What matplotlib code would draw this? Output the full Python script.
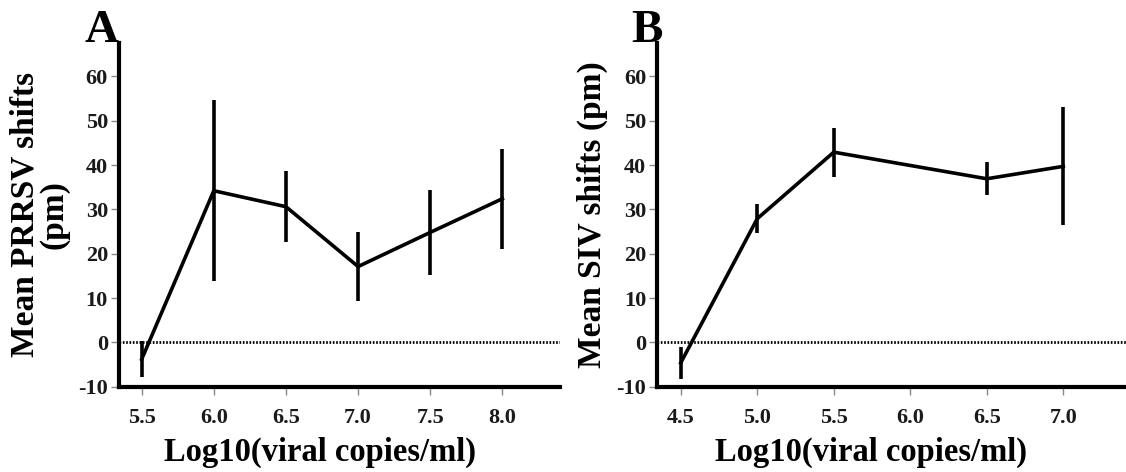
import numpy as np
import matplotlib
matplotlib.use("Agg")
import matplotlib.pyplot as plt

plt.rcParams['font.family'] = ['Liberation Serif', 'DejaVu Serif']
plt.rcParams['font.weight'] = 'bold'
plt.rcParams['axes.unicode_minus'] = False

# PRRSV panel
prrsv_x = [5.5, 6.0, 6.5, 7.0, 7.5, 8.0]
prrsv_mean = [-3.8, 34.2, 30.6, 17.1, 24.8, 32.4]
prrsv_err = [4.0, 20.4, 8.0, 7.8, 9.6, 11.3]
prrsv_ticks = [5.5, 6.0, 6.5, 7.0, 7.5, 8.0]

# SIV panel
siv_x = [4.5, 5.0, 5.5, 6.5, 7.0]
siv_mean = [-4.6, 27.9, 42.9, 36.9, 39.7]
siv_err = [3.6, 3.3, 5.5, 3.7, 13.3]
siv_ticks = [4.5, 5.0, 5.5, 6.0, 6.5, 7.0]

yticks = [-10, 0, 10, 20, 30, 40, 50, 60]

fig = plt.figure(figsize=(11.26, 4.72), dpi=100)
axA = fig.add_axes([0.1057, 0.1807, 0.3917, 0.728])
axB = fig.add_axes([0.5838, 0.1807, 0.4162, 0.728])


def style(ax, xs, means, errs, ticks, xlim):
    ax.axhline(0, color='black', lw=2.0, ls=(0, (0.6, 0.6)), zorder=1)
    ax.errorbar(xs, means, yerr=errs, color='black', lw=2.6, elinewidth=2.6,
                capsize=0, zorder=3)
    ax.set_xlim(*xlim)
    ax.set_ylim(-10, 67.5)
    ax.set_xticks(ticks)
    ax.set_xticklabels([f"{t:.1f}" for t in ticks])
    ax.set_yticks(yticks)
    for s in ['top', 'right']:
        ax.spines[s].set_visible(False)
    for s in ['left', 'bottom']:
        ax.spines[s].set_linewidth(3)
    ax.tick_params(axis='both', direction='out', length=6, width=1,
                   color='#888888', labelsize=16, labelcolor='#1a1a1a', pad=2)
    ax.tick_params(axis='x', pad=9)
    ax.set_xlabel("Log10(viral copies/ml)", fontsize=23.5, fontweight='bold',
                  labelpad=6)
    ax.xaxis.set_label_coords(0.455, -0.145)


style(axA, prrsv_x, prrsv_mean, prrsv_err, prrsv_ticks, (5.343, 8.40))
style(axB, siv_x, siv_mean, siv_err, siv_ticks, (4.347, 7.41))

axA.set_ylabel("Mean PRRSV shifts\n(pm)", fontsize=24, fontweight='bold',
               linespacing=0.9, labelpad=6)
axB.set_ylabel("Mean SIV shifts (pm)", fontsize=24, fontweight='bold',
               labelpad=6)

fig.text(0.075, 0.91, "A", fontsize=34, fontweight='bold')
fig.text(0.561, 0.91, "B", fontsize=34, fontweight='bold')

fig.savefig("out.png", dpi=100)
